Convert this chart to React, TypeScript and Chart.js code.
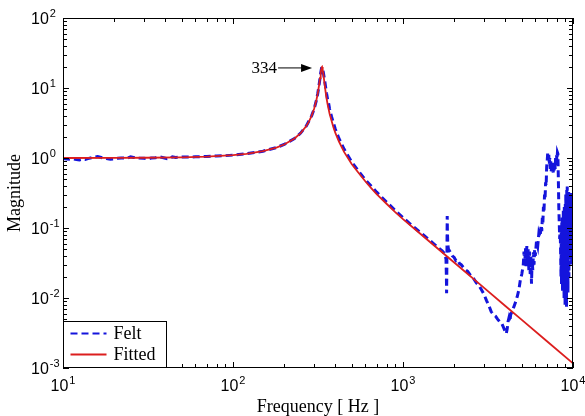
import React, { useEffect, useRef } from "react";
import { Chart, registerables } from "chart.js";

Chart.register(...registerables);

const seriesLabels = ["Felt", "Fitted"];
const xTitle = "Frequency [ Hz ]";
const yTitle = "Magnitude";
const xTickExponents = [1, 2, 3, 4];
const yTickExponents = [-3, -2, -1, 0, 1, 2];
const peakFreq = 334;
const peakMag = 20;
const peakLabel = "334";

const feltFreq = [
  10, 10.5, 11, 11.5, 12, 12.5, 13, 13.5, 14, 15,
  16, 17, 18, 19, 20, 21, 22, 24, 25, 26,
  28, 30, 31.6, 33, 35, 37, 39, 41, 43, 44,
  46, 50, 55, 60, 70, 80, 90, 100, 120, 150,
  180, 200, 230, 250, 270, 290, 300, 310, 315, 320,
  325, 328, 332, 334, 336, 338, 340, 343, 345, 350,
  355, 360, 365, 370, 380, 390, 400, 420, 450, 500,
  550, 600, 700, 800, 900, 1000, 1100, 1200, 1300, 1400,
  1500, 1600, 1700, 1760, 1790, 1800, 1805, 1810, 1815, 1820,
  1825, 1835, 1850, 1900, 1950, 2000, 2050, 2100, 2150, 2200,
  2300, 2400, 2500, 2600, 2700, 2800, 2900, 3000, 3100, 3200,
  3300, 3400, 3500, 3600, 3700, 3800, 3900, 4000, 4050, 4100,
  4150, 4200, 4250, 4300, 4400, 4500, 4600, 4700, 4800, 4900,
  5000, 5100, 5150, 5200, 5250, 5300, 5350, 5400, 5450, 5500,
  5550, 5600, 5650, 5700, 5750, 5800, 5850, 5900, 5950, 6000,
  6100, 6200, 6300, 6400, 6500, 6550, 6600, 6650, 6700, 6750,
  6800, 6850, 6900, 6950, 7000, 7050, 7100, 7150, 7200, 7250,
  7300, 7350, 7400, 7450, 7500, 7550, 7600, 7650, 7700, 7750,
  7800, 7850, 7900, 7950, 8000, 8050, 8100, 8150, 8200, 8250,
  8300, 8350, 8400, 8450, 8500, 8530, 8560, 8590, 8620, 8650,
  8680, 8710, 8740, 8770, 8800, 8830, 8860, 8890, 8920, 8950,
  8980, 9010, 9040, 9070, 9100, 9130, 9160, 9190, 9220, 9250,
  9280, 9310, 9340, 9370, 9400, 9430, 9460, 9490, 9520, 9550,
  9580, 9610, 9640, 9670, 9700, 9730, 9760, 9790, 9820, 9850,
  9880, 9910, 9940, 9970, 10000,
];
const feltMag = [
  0.98, 0.97, 0.96, 0.97, 0.95, 0.94, 0.96, 0.95, 0.98, 1.02,
  1.05, 1.01, 0.98, 0.96, 0.97, 0.99, 1.0, 1.0, 1.04, 1.02,
  1.0, 0.99, 0.97, 1.0, 1.01, 1.04, 1.01, 0.98, 1.0, 1.04,
  1.02, 1.03, 1.03, 1.04, 1.05, 1.07, 1.08, 1.1, 1.15, 1.25,
  1.41, 1.56, 1.9, 2.27, 2.87, 4.0, 5.0, 6.8, 8.3, 10.5,
  13.8, 16.4, 19.4, 19.8, 19.3, 18.0, 16.6, 14.6, 13.5, 10.6,
  8.4, 6.9, 6.1, 5.0, 3.9, 3.15, 2.58, 1.9, 1.34, 0.87,
  0.64, 0.49, 0.325, 0.235, 0.178, 0.141, 0.115, 0.096, 0.082, 0.07,
  0.061, 0.053, 0.047, 0.043, 0.036, 0.02, 0.0117, 0.022, 0.06, 0.148,
  0.09, 0.058, 0.05, 0.045, 0.04, 0.038, 0.034, 0.035, 0.031, 0.03,
  0.026, 0.024, 0.021, 0.019, 0.0165, 0.015, 0.013, 0.0112, 0.0092, 0.0078,
  0.0064, 0.0058, 0.0055, 0.005, 0.0046, 0.0044, 0.0038, 0.0033, 0.0031, 0.0036,
  0.0046, 0.0052, 0.0046, 0.0058, 0.0066, 0.0076, 0.0088, 0.0105, 0.013, 0.018,
  0.022, 0.03, 0.046, 0.03, 0.052, 0.028, 0.055, 0.03, 0.05, 0.025,
  0.046, 0.022, 0.04, 0.016, 0.035, 0.025, 0.045, 0.03, 0.05, 0.04,
  0.065, 0.055, 0.085, 0.075, 0.11, 0.09, 0.14, 0.12, 0.2, 0.17,
  0.3, 0.26, 0.45, 0.4, 0.75, 0.9, 1.2, 0.95, 1.15, 0.8,
  1.0, 0.7, 0.9, 0.65, 0.85, 0.6, 0.8, 0.62, 0.85, 0.65,
  0.9, 0.7, 1.0, 0.8, 1.1, 0.9, 1.2, 1.15, 0.5, 0.2,
  0.12, 0.07, 0.1, 0.05, 0.02, 0.09, 0.015, 0.12, 0.03, 0.15,
  0.012, 0.1, 0.025, 0.18, 0.04, 0.12, 0.01, 0.2, 0.03, 0.15,
  0.008, 0.22, 0.04, 0.3, 0.05, 0.25, 0.0075, 0.35, 0.06, 0.39,
  0.03, 0.3, 0.012, 0.25, 0.05, 0.33, 0.02, 0.28, 0.04, 0.32,
  0.03, 0.26, 0.06, 0.3, 0.035, 0.25, 0.05, 0.33, 0.03, 0.28,
  0.06, 0.3, 0.04, 0.25, 0.1,
];

const fitFreq = [
  10, 20, 30, 50, 70, 100, 120, 150, 180, 200,
  230, 250, 270, 280, 290, 300, 310, 315, 320, 325,
  328, 330, 332, 334, 336, 338, 340, 345, 350, 355,
  360, 370, 390, 400, 420, 450, 500, 550, 600, 650,
  700, 800, 900, 1000, 1200, 1500, 2000, 3000, 4000, 5000,
  7000, 10000,
];
const fitMag = [
  1.0, 1.004, 1.008, 1.023, 1.046, 1.098, 1.148, 1.253, 1.41, 1.559,
  1.9, 2.27, 2.87, 3.33, 4.0, 5.04, 6.84, 8.32, 10.5, 13.9,
  16.5, 18.2, 19.6, 20.0, 19.3, 17.8, 16.0, 11.8, 8.99, 7.14,
  5.87, 4.28, 2.72, 2.28, 1.72, 1.224, 0.815, 0.605, 0.465, 0.372,
  0.305, 0.222, 0.169, 0.134, 0.092, 0.0581, 0.0321, 0.01393, 0.0077, 0.00486,
  0.00243, 0.001165,
];

const SANS = "'Liberation Sans', Arial, sans-serif";
const SERIF = "'Liberation Serif', 'Times New Roman', serif";

function drawPow(ctx: CanvasRenderingContext2D, exp: number, x: number, baseline: number, mode: "left" | "center") {
  ctx.font = `16px ${SANS}`;
  const mainW = ctx.measureText("10").width;
  ctx.font = `11px ${SANS}`;
  const expText = String(exp);
  const expW = ctx.measureText(expText).width;
  const total = mainW + 1 + expW;
  const startX = mode === "left" ? x : x - total / 2;
  ctx.fillStyle = "#000";
  ctx.textAlign = "left";
  ctx.textBaseline = "alphabetic";
  ctx.font = `16px ${SANS}`;
  ctx.fillText("10", startX, baseline);
  ctx.font = `11px ${SANS}`;
  ctx.fillText(expText, startX + mainW + 1, baseline - 7);
}

const decor = {
  id: "decor",
  afterDatasetsDraw(chart: any) {
    const { ctx, chartArea: a, scales } = chart;
    const xs = scales.x;
    const ys = scales.y;
    ctx.save();
    ctx.strokeStyle = "#000";
    ctx.lineWidth = 1;

    ctx.beginPath();
    for (let e = 1; e <= 4; e++) {
      for (let m = 1; m <= 9; m++) {
        const v = m * Math.pow(10, e);
        if (v < xs.min || v > xs.max) continue;
        const px = Math.round(xs.getPixelForValue(v)) + 0.5;
        const len = m === 1 ? 6 : 4;
        ctx.moveTo(px, a.bottom);
        ctx.lineTo(px, a.bottom - len);
        ctx.moveTo(px, a.top);
        ctx.lineTo(px, a.top + len);
      }
    }
    for (let e = -3; e <= 2; e++) {
      for (let m = 1; m <= 9; m++) {
        const v = m * Math.pow(10, e);
        if (v < ys.min || v > ys.max) continue;
        const py = Math.round(ys.getPixelForValue(v)) + 0.5;
        const len = m === 1 ? 6 : 4;
        ctx.moveTo(a.left, py);
        ctx.lineTo(a.left + len, py);
        ctx.moveTo(a.right, py);
        ctx.lineTo(a.right - len, py);
      }
    }
    ctx.stroke();

    ctx.strokeRect(Math.round(a.left) + 0.5, Math.round(a.top) + 0.5, Math.round(a.right - a.left) - 1, Math.round(a.bottom - a.top) - 1);

    xTickExponents.forEach((e) => {
      const px = xs.getPixelForValue(Math.pow(10, e));
      drawPow(ctx, e, px, 391, "center");
    });
    yTickExponents.forEach((e) => {
      const py = ys.getPixelForValue(Math.pow(10, e));
      drawPow(ctx, e, 31, py + 6, "left");
    });

    const lx = Math.round(a.left) + 0.5;
    const lw = 103;
    const lh = 46;
    const ly = Math.round(a.bottom) - lh - 0.5;
    ctx.fillStyle = "#fff";
    ctx.fillRect(lx, ly, lw, lh);
    ctx.strokeStyle = "#000";
    ctx.lineWidth = 1;
    ctx.strokeRect(lx, ly, lw, lh);
    chart.data.datasets.forEach((ds: any, i: number) => {
      const yy = ly + 12 + i * 21;
      ctx.save();
      ctx.strokeStyle = ds.borderColor;
      ctx.lineWidth = Math.min(ds.borderWidth, 2);
      ctx.setLineDash(ds.borderDash || []);
      ctx.beginPath();
      ctx.moveTo(lx + 7, yy);
      ctx.lineTo(lx + 43, yy);
      ctx.stroke();
      ctx.restore();
      ctx.fillStyle = "#000";
      ctx.font = `18px ${SERIF}`;
      ctx.textAlign = "left";
      ctx.textBaseline = "middle";
      ctx.fillText(ds.label, lx + 50, yy + 1);
    });

    const tipX = xs.getPixelForValue(peakFreq) - 10;
    const tipY = ys.getPixelForValue(peakMag) + 1;
    ctx.strokeStyle = "#000";
    ctx.lineWidth = 1;
    ctx.beginPath();
    ctx.moveTo(tipX - 34, tipY);
    ctx.lineTo(tipX - 8, tipY);
    ctx.stroke();
    ctx.fillStyle = "#000";
    ctx.beginPath();
    ctx.moveTo(tipX, tipY);
    ctx.lineTo(tipX - 11, tipY - 4);
    ctx.lineTo(tipX - 11, tipY + 4);
    ctx.closePath();
    ctx.fill();
    ctx.font = `17px ${SERIF}`;
    ctx.textAlign = "right";
    ctx.textBaseline = "middle";
    ctx.fillText(peakLabel, tipX - 35, tipY + 1);

    ctx.restore();
  },
};

export default function App() {
  const ref = useRef<HTMLCanvasElement | null>(null);
  useEffect(() => {
    if (!ref.current) return;
    const chart = new Chart(ref.current, {
      type: "line",
      data: {
        datasets: [
          {
            label: seriesLabels[0],
            data: feltFreq.map((f, i) => ({ x: f, y: feltMag[i] })),
            borderColor: "#1414DC",
            borderWidth: 3,
            borderDash: [7, 4],
            pointRadius: 0,
            fill: false,
            tension: 0,
            order: 1,
          },
          {
            label: seriesLabels[1],
            data: fitFreq.map((f, i) => ({ x: f, y: fitMag[i] })),
            borderColor: "#DC1E1E",
            borderWidth: 1.8,
            pointRadius: 0,
            fill: false,
            tension: 0,
            order: 0,
          },
        ],
      },
      options: {
        animation: false,
        responsive: false,
        maintainAspectRatio: false,
        layout: { padding: { left: 0, right: 12, top: 18, bottom: 0 } },
        plugins: { legend: { display: false }, tooltip: { enabled: false } },
        scales: {
          x: {
            type: "logarithmic",
            min: 10,
            max: 10000,
            grid: { display: false },
            border: { display: false },
            ticks: { display: false },
            title: {
              display: true,
              text: xTitle,
              color: "#000",
              font: { family: SERIF, size: 18, lineHeight: 1 },
              padding: { top: 0, bottom: 0 },
            },
            afterFit(s: any) {
              s.height = 48;
            },
          },
          y: {
            type: "logarithmic",
            min: 0.001,
            max: 100,
            grid: { display: false },
            border: { display: false },
            ticks: { display: false },
            title: {
              display: true,
              text: yTitle,
              color: "#000",
              font: { family: SERIF, size: 18, lineHeight: 1 },
              padding: { top: 6, bottom: 0 },
            },
            afterFit(s: any) {
              s.width = 63;
            },
          },
        },
      } as any,
      plugins: [decor],
    });
    return () => chart.destroy();
  }, []);
  return (
    <div style={{ position: "fixed", left: 0, top: 0, width: 585, height: 416, background: "#fff" }}>
      <canvas ref={ref} width={585} height={416} style={{ display: "block" }} />
    </div>
  );
}
